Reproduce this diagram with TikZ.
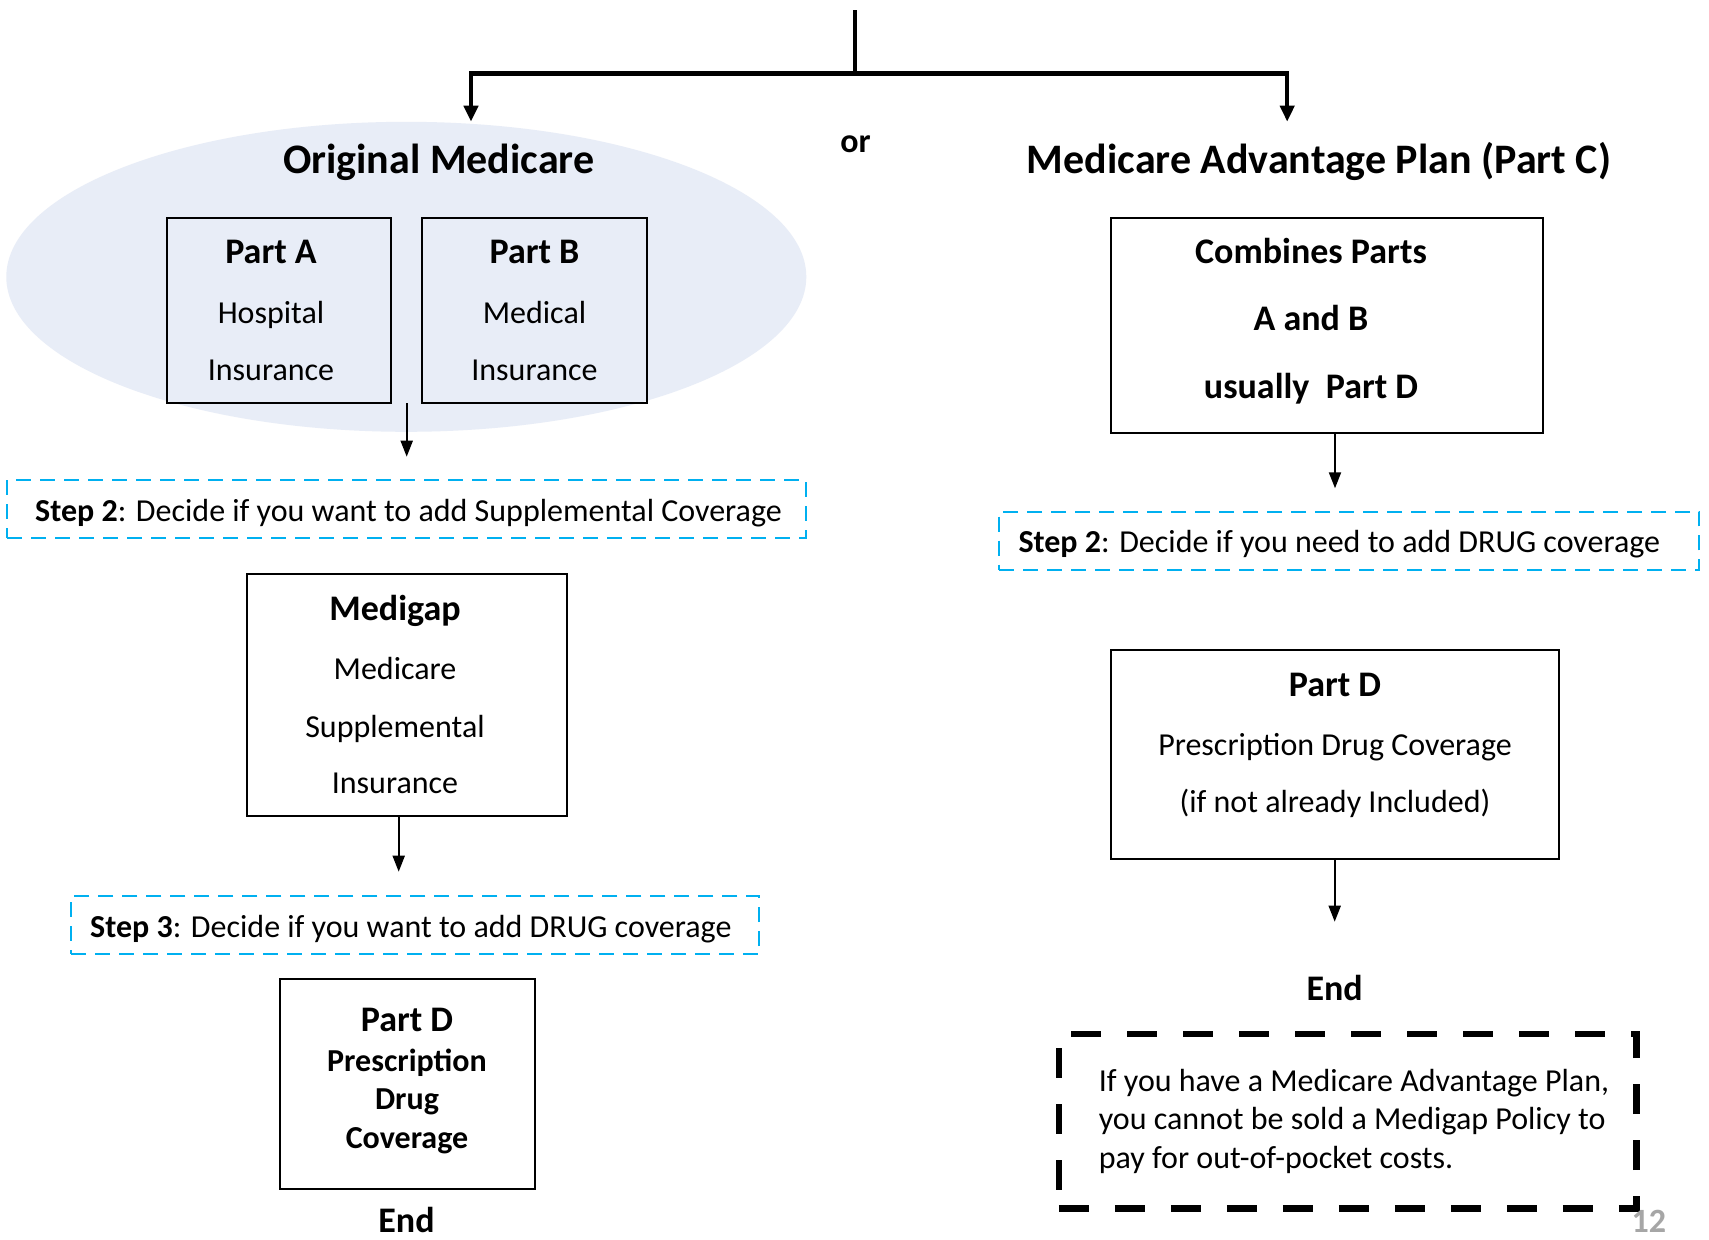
\documentclass[tikz,border=0pt]{standalone}
\usepackage{fontspec}
\setmainfont{Carlito}
\usetikzlibrary{arrows.meta}
\definecolor{stepblue}{HTML}{00B0F0}
\definecolor{ovalblue}{HTML}{E8EDF7}
\definecolor{pagegray}{HTML}{A6A6A6}
\begin{document}
\begin{tikzpicture}[x=1pt,y=-1pt,
 box/.style={draw=black,line width=2pt,inner sep=0pt},
 stepbox/.style={draw=stepblue,line width=2pt,dash pattern=on 15pt off 9pt,inner sep=0pt},
 notebox/.style={draw=black,line width=6.5pt,dash pattern=on 30pt off 26pt,inner sep=0pt},
 trunk/.style={line width=4.5pt},
 trunkarrow/.style={line width=4.5pt,-{Triangle[length=16pt,width=14pt]}},
 thinarrow/.style={line width=2pt,-{Triangle[length=16pt,width=12pt]}},
 title/.style={font=\fontsize{42}{50}\selectfont\bfseries,anchor=base,inner sep=0pt,yshift=-2pt},
 head/.style={font=\fontsize{36}{43}\selectfont\bfseries,anchor=base,inner sep=0pt,yshift=-2pt},
 bodytxt/.style={font=\fontsize{32}{38}\selectfont,anchor=base,inner sep=0pt,yshift=-2pt},
 boldtxt/.style={font=\fontsize{32}{38}\selectfont\bfseries,anchor=base,inner sep=0pt,yshift=-2pt},
]
\useasboundingbox (0,0) rectangle (1709,1240);
\fill[white] (0,0) rectangle (1709,1240);

% oval
\fill[ovalblue] (406.3,276.8) ellipse [x radius=400, y radius=155];

% top tree
\coordinate (top) at (855,10);
\coordinate (split) at (855,73.3);
\coordinate (omtip) at (471,121.7);
\coordinate (matip) at (1287.2,121.7);
\draw[trunk] (top) -- (split);
\draw[trunkarrow] (split) -| (omtip);
\draw[trunkarrow] (split) -| (matip);

\node[title] (omtitle) at (438.7,171) {Original Medicare};
\node[title] (matitle) at (1319,171) {Medicare Advantage Plan (Part C)};
\node[font=\fontsize{34}{40}\selectfont\bfseries,anchor=base,inner sep=0pt,yshift=-2pt] (or) at (855.6,150) {or};

% Part A / Part B
\node[box,minimum width=224pt,minimum height=185pt] (pa) at (279,310.8) {};
\node[box,minimum width=225pt,minimum height=185pt] (pb) at (534.75,310.8) {};
\node[head] (paA) at (271,261.7) {Part A};
\node[bodytxt] (paB) at (271,321.7) {Hospital};
\node[bodytxt] (paC) at (271,378.3) {Insurance};
\node[head] (pbA) at (534.5,261.7) {Part B};
\node[bodytxt] (pbB) at (534.5,321.7) {Medical};
\node[bodytxt] (pbC) at (534.5,378.3) {Insurance};

% left step 2
\coordinate (a1s) at (406.7,403.3);
\coordinate (a1e) at (406.7,456.7);
\draw[thinarrow] (a1s) -- (a1e);
\node[stepbox,minimum width=799pt,minimum height=57.7pt] (s2l) at (406.5,508.85) {};
\node[bodytxt,anchor=base west] (s2ltxt) at (35,519.3) {\textbf{Step 2}: Decide if you want to add Supplemental Coverage};

% Medigap
\node[box,minimum width=319.8pt,minimum height=241.7pt] (mg) at (406.7,694.85) {};
\node[head] (mgA) at (395,618.3) {Medigap};
\node[bodytxt] (mgB) at (395,677.3) {Medicare};
\node[bodytxt] (mgC) at (395,735) {Supplemental};
\node[bodytxt] (mgD) at (395,791.7) {Insurance};

\coordinate (a2s) at (398.7,815.7);
\coordinate (a2e) at (398.7,871.7);
\draw[thinarrow] (a2s) -- (a2e);

% step 3
\node[stepbox,minimum width=688pt,minimum height=58pt] (s3) at (415.25,925) {};
\node[bodytxt,anchor=base west] (s3txt) at (90,935) {\textbf{Step 3}: Decide if you want to add DRUG coverage};

% Part D left
\node[box,minimum width=255pt,minimum height=210pt] (pdl) at (407.25,1084.3) {};
\node[head] (pdlA) at (407,1029) {Part D};
\node[boldtxt] (pdlB) at (407,1069.3) {Prescription};
\node[boldtxt] (pdlC) at (407,1107.7) {Drug};
\node[boldtxt] (pdlD) at (407,1146) {Coverage};
\node[head,yshift=2pt,text depth=0pt] (endl) at (406.5,1232) {End};

% right side
\node[box,minimum width=432.6pt,minimum height=214.4pt] (cb) at (1327,325.5) {};
\node[head] (cbA) at (1311,261.7) {Combines Parts};
\node[head] (cbB) at (1311,328.3) {A and B};
\node[head] (cbC) at (1311,396.7) {usually~ Part D};

\coordinate (a3s) at (1335,432.7);
\coordinate (a3e) at (1335,488.3);
\draw[thinarrow] (a3s) -- (a3e);

\node[stepbox,minimum width=700.4pt,minimum height=58.3pt] (s2r) at (1349.2,540.85) {};
\node[bodytxt,anchor=base west] (s2rtxt) at (1018.3,550) {\textbf{Step 2}: Decide if you need to add DRUG coverage};

\node[box,minimum width=448.5pt,minimum height=209pt] (pdr) at (1334.75,754.5) {};
\node[head] (pdrA) at (1335,694) {Part D};
\node[bodytxt] (pdrB) at (1335,753.3) {Prescription Drug Coverage};
\node[bodytxt] (pdrC) at (1335,810) {(if not already Included)};

\coordinate (a4s) at (1334.7,859);
\coordinate (a4e) at (1334.7,921.7);
\draw[thinarrow] (a4s) -- (a4e);
\node[head] (endr) at (1334.6,998.3) {End};

% note
\node[notebox,minimum width=577.8pt,minimum height=174.3pt] (note) at (1347.7,1121.15) {};
\node[bodytxt,anchor=base west] (n1) at (1098.6,1089.3) {If you have a Medicare Advantage Plan,};
\node[bodytxt,anchor=base west] (n2) at (1098.6,1127.3) {you cannot be sold a Medigap Policy to};
\node[bodytxt,anchor=base west] (n3) at (1098.6,1166) {pay for out-of-pocket costs.};

\node[font=\fontsize{34}{40}\selectfont\bfseries,text=pagegray,anchor=base,inner sep=0pt,text depth=0pt] (pg) at (1648.8,1232) {12};
\end{tikzpicture}
\end{document}
